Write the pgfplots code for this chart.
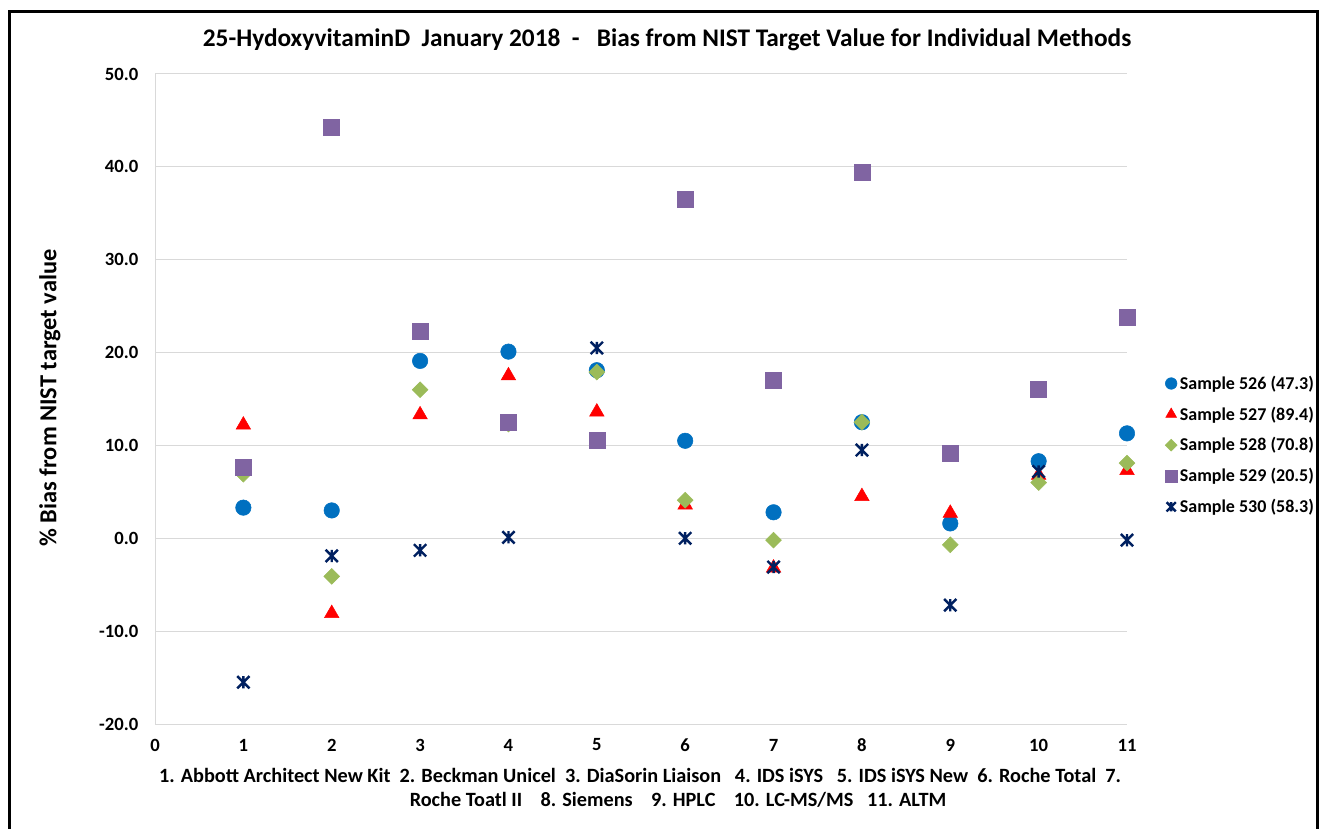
\documentclass[border=0pt]{standalone}
\usepackage{fontspec}
\setmainfont{Carlito}
\usepackage{pgfplots}
\pgfplotsset{compat=1.18}

\definecolor{s526}{HTML}{0070C0}
\definecolor{s527}{HTML}{FF0000}
\definecolor{s528}{HTML}{9BBB59}
\definecolor{s529}{HTML}{8064A2}
\definecolor{s530}{HTML}{002060}
\definecolor{gridgray}{HTML}{D9D9D9}

% Excel-like "star": an X with a vertical bar
\pgfdeclareplotmark{xlstar}{%
  \pgfpathmoveto{\pgfqpoint{-\pgfplotmarksize}{-\pgfplotmarksize}}%
  \pgfpathlineto{\pgfqpoint{\pgfplotmarksize}{\pgfplotmarksize}}%
  \pgfpathmoveto{\pgfqpoint{-\pgfplotmarksize}{\pgfplotmarksize}}%
  \pgfpathlineto{\pgfqpoint{\pgfplotmarksize}{-\pgfplotmarksize}}%
  \pgfpathmoveto{\pgfqpoint{0pt}{-\pgfplotmarksize}}%
  \pgfpathlineto{\pgfqpoint{0pt}{\pgfplotmarksize}}%
  \pgfusepathqstroke}

\begin{document}
\begin{tikzpicture}
\useasboundingbox (0,0) rectangle (990pt,621pt);

\begin{axis}[
  at={(116.25pt,78pt)}, anchor=south west,
  scale only axis,
  width=729pt, height=487.5pt,
  xmin=0, xmax=11,
  ymin=-20, ymax=50,
  xtick={0,1,...,11},
  ytick={-20,-10,...,50},
  axis x line=none,
  axis y line*=left,
  y axis line style={gridgray, line width=0.75pt, -},
  ymajorgrids,
  grid style={gridgray, line width=0.75pt},
  major tick length=0pt,
  tick label style={font=\fontsize{14}{16}\selectfont\bfseries},
  /pgf/number format/assume math mode=true,
  yticklabel={\pgfmathprintnumber[fixed,fixed zerofill,precision=1]{\tick}},
  yticklabel style={xshift=-9pt},
  clip=false,
  legend style={
    at={(1.039,0.429)}, anchor=west,
    draw=none, fill=none,
    font=\fontsize{13.5}{15}\selectfont\bfseries,
    row sep=7.6pt,
    inner sep=0pt,
  },
  legend cell align=left,
  legend image code/.code={\draw[#1, every mark/.append style={scale=0.75}] plot coordinates {(0.16cm,0cm)};},
]

\addplot[only marks, mark=*, mark size=5.8pt, color=s526, mark options={fill=s526, draw=s526}]
  coordinates {(1,3.3) (2,3.0) (3,19.1) (4,20.1) (5,18.1) (6,10.5) (7,2.8) (8,12.5) (9,1.6) (10,8.3) (11,11.3)};
\addlegendentry{Sample 526 (47.3)}

\addplot[only marks, mark=triangle*, mark size=6.3pt, color=s527, mark options={fill=s527, draw=s527}]
  coordinates {(1,12.2) (2,-8.1) (3,13.3) (4,17.5) (5,13.6) (6,3.6) (7,-3.2) (8,4.5) (9,2.7) (10,6.8) (11,7.3)};
\addlegendentry{Sample 527 (89.4)}

\addplot[only marks, mark=square*, mark size=4.2pt, color=s528, mark options={fill=s528, draw=s528, rotate=45}]
  coordinates {(1,6.9) (2,-4.1) (3,16.0) (4,12.3) (5,17.9) (6,4.1) (7,-0.2) (8,12.5) (9,-0.7) (10,6.0) (11,8.1)};
\addlegendentry{Sample 528 (70.8)}

\addplot[only marks, mark=square*, mark size=6pt, color=s529, mark options={fill=s529, draw=s529}]
  coordinates {(1,7.7) (2,44.3) (3,22.3) (4,12.5) (5,10.6) (6,36.5) (7,17.0) (8,39.4) (9,9.2) (10,16.0) (11,23.8)};
\addlegendentry{Sample 529 (20.5)}

\addplot[only marks, mark=xlstar, mark size=4.6pt, color=s530, mark options={draw=s530, line width=1.8pt}]
  coordinates {(1,-15.5) (2,-1.9) (3,-1.3) (4,0.1) (5,20.5) (6,0.0) (7,-3.1) (8,9.5) (9,-7.2) (10,7.2) (11,-0.2)};
\addlegendentry{Sample 530 (58.3)}

\end{axis}

\begin{scope}[x=0.75pt, y=0.75pt]
  % outer chart frame
  \draw[black, line width=2.25pt] (9,-20) -- (9,816) -- (1317,816) -- (1317,-20);
  % title
  \node[font=\fontsize{19}{22}\selectfont\bfseries] at (667,788)
    {25-HydoxyvitaminD\ \ January 2018\ \ -\ \ \ Bias from NIST Target Value for Individual Methods};
  % y label
  \node[font=\fontsize{18.3}{21}\selectfont\bfseries, rotate=90] at (50,430)
    {\% Bias from NIST target value};
  % x tick labels
  \foreach \i in {0,...,11} {
    \node[font=\fontsize{14}{16}\selectfont\bfseries] at ({155+\i*88.3636},83) {\i};
  }
  % x caption (two lines)
  \node[font=\fontsize{15.2}{17}\selectfont\bfseries] at (640,53)
    {1. Abbott Architect New Kit\ \ 2. Beckman Unicel\ \ 3. DiaSorin Liaison\ \ \ 4. IDS iSYS\ \ \ 5. IDS iSYS New\ \ 6. Roche Total\ \ 7.};
  \node[font=\fontsize{15.2}{17}\selectfont\bfseries] at (678,28)
    {Roche Toatl II\ \ \ \ 8. Siemens\ \ \ \ 9. HPLC\ \ \ \ 10. LC-MS/MS\ \ \ 11. ALTM};
\end{scope}
\end{tikzpicture}
\end{document}
